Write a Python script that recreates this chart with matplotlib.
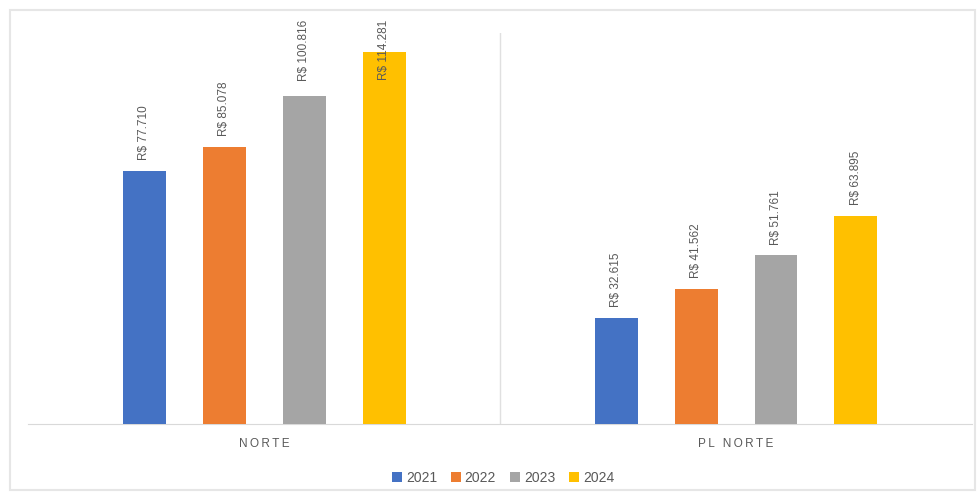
import numpy as np
import matplotlib.pyplot as plt
from matplotlib.patches import Rectangle

categories = ['NORTE', 'PL NORTE']
years = ['2021', '2022', '2023', '2024']
values = {
    '2021': [77710, 32615],
    '2022': [85078, 41562],
    '2023': [100816, 51761],
    '2024': [114281, 63895],
}
colors = ['#4472C4', '#ED7D31', '#A5A5A5', '#FFC000']


def fmt(v):
    return 'R$ ' + f'{v:,}'.replace(',', '.')


plt.rcParams['font.family'] = ['Liberation Sans', 'DejaVu Sans']
fig = plt.figure(figsize=(9.79, 4.96), dpi=100)
ax = fig.add_axes([28 / 979, 1 - 424 / 496, 944 / 979, 391 / 496])

x = np.arange(len(categories))
width = 43 / 472
step = 80 / 472
label_top = 124000   # labels that would run off the top get pushed down
label_len = 21000
for i, (yr, c) in enumerate(zip(years, colors)):
    pos = x + (i - 1.5) * step
    bars = ax.bar(pos, values[yr], width, color=c, label=yr, zorder=3)
    for b, v in zip(bars, values[yr]):
        y0 = v + 3300
        if y0 + label_len > label_top:
            ax.text(b.get_x() + b.get_width() / 2, label_top, fmt(v),
                    rotation=90, ha='center', va='top', fontsize=8.5,
                    color='#595959', zorder=4, clip_on=False)
        else:
            ax.text(b.get_x() + b.get_width() / 2, y0, fmt(v),
                    rotation=90, ha='center', va='bottom', fontsize=8.5,
                    color='#595959', zorder=4)

ax.set_xlim(-0.5, 1.5)
ax.set_ylim(0, 120000)
ax.set_yticks([])
ax.set_xticks(x)
ax.set_xticklabels(['\u2009'.join(c) for c in categories],
                   fontsize=8.5, color='#595959')
ax.tick_params(axis='x', length=0, pad=10)
ax.axvline(0.5, color='#E0E0E0', lw=1, zorder=1)
for s in ['top', 'left', 'right']:
    ax.spines[s].set_visible(False)
ax.spines['bottom'].set_color('#D9D9D9')

ax.legend(loc='center', bbox_to_anchor=(503 / 979, 1 - 478 / 496),
          bbox_transform=fig.transFigure, ncol=4, frameon=False,
          fontsize=10, handlelength=0.7, handleheight=0.7,
          handletextpad=0.3, columnspacing=1.0, labelcolor='#595959')

fig.patches.append(Rectangle((10 / 979, 6 / 496), 965 / 979, 480 / 496,
                             transform=fig.transFigure, fill=False,
                             edgecolor='#E6E6E6', lw=1.5))

fig.savefig('out.png', dpi=100)
